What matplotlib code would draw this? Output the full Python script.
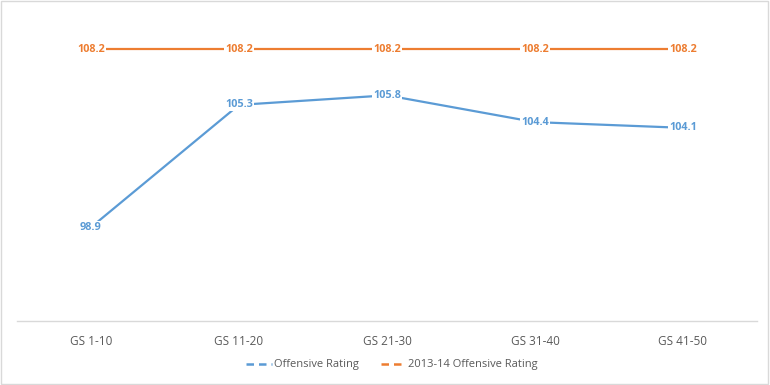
import matplotlib
matplotlib.use("Agg")
import matplotlib.pyplot as plt
from matplotlib.lines import Line2D
from matplotlib.patches import Rectangle

categories = ["GS 1-10", "GS 11-20", "GS 21-30", "GS 31-40", "GS 41-50"]
offensive = [98.9, 105.3, 105.8, 104.4, 104.1]
season_1314 = [108.2, 108.2, 108.2, 108.2, 108.2]

plt.rcParams['font.family'] = ['Open Sans', 'DejaVu Sans']
blue = "#5B9BD5"
orange = "#ED7D31"

fig = plt.figure(figsize=(7.7, 3.85), dpi=100)
fig.patches.append(Rectangle((0.001, 0.002), 0.997, 0.996, transform=fig.transFigure,
                             fill=False, edgecolor="#D9D9D9", linewidth=1))
ax = fig.add_axes([17/770, 64/385, 740/770, 306/385])
x = list(range(len(categories)))
ax.plot(x, offensive, color=blue, linewidth=1.6, solid_capstyle='round')
ax.plot(x, season_1314, color=orange, linewidth=1.6, solid_capstyle='round')
for xi, v in zip(x, offensive):
    ax.text(xi, v, f"{v:.1f}", color=blue, fontsize=7.8, fontweight='bold', ha='center', va='center',
            bbox=dict(facecolor='white', edgecolor='none', pad=0.5))
for xi, v in zip(x, season_1314):
    ax.text(xi, v, f"{v:.1f}", color=orange, fontsize=7.8, fontweight='bold', ha='center', va='center',
            bbox=dict(facecolor='white', edgecolor='none', pad=0.5))
ax.set_xlim(-0.5, len(categories) - 0.5)
ax.set_ylim(94, 110)
ax.set_xticks(x)
ax.set_xticklabels(categories, fontsize=8.5, color="#595959")
ax.tick_params(axis='x', length=0, pad=10)
ax.set_yticks([])
for s in ['top', 'right', 'left']:
    ax.spines[s].set_visible(False)
ax.spines['bottom'].set_color("#D9D9D9")
ax.spines['bottom'].set_linewidth(1)

handles = [Line2D([0], [0], color=blue, linewidth=1.8, linestyle=(0, (3, 2))),
           Line2D([0], [0], color=orange, linewidth=1.8, linestyle=(0, (3, 2)))]
leg = fig.legend(handles, ["Offensive Rating", "2013-14 Offensive Rating"], loc='center',
                 bbox_to_anchor=(392/770, 1 - 365/385), ncol=2, frameon=False, fontsize=8,
                 handlelength=2.3, handletextpad=0.15, columnspacing=2.0)
for t in leg.get_texts():
    t.set_color("#595959")
fig.savefig("out.png", dpi=100)
